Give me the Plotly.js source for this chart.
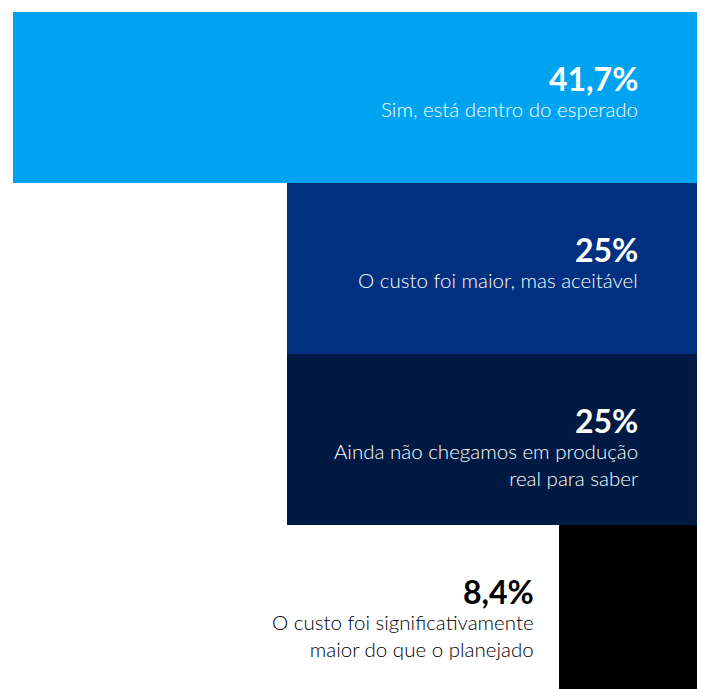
<!DOCTYPE html>
<html>
<head>
<meta charset="utf-8">
<script src="https://cdn.plot.ly/plotly-3.0.1.min.js"></script>
<style>
html, body { margin:0; padding:0; background:#fff; width:701px; height:689px; overflow:hidden; }
#chart { width:701px; height:696px; }
</style>
</head>
<body>
<div id="chart"></div>
<script>
const categories = ["sim", "maior_aceitavel", "nao_chegamos", "significativo"];
const values = [41.7, 25, 25, 8.4];
const valueLabels = ["41,7%", "25%", "25%", "8,4%"];
const descriptions = [
  "Sim, está dentro do esperado",
  "O custo foi maior, mas aceitável",
  "Ainda não chegamos em produção<br>real para saber",
  "O custo foi significativamente<br>maior do que o planejado"
];
const colors = ["#00A3EF", "#00307F", "#001A43", "#000000"];
const textColors = ["#ffffff", "#ffffff", "#ffffff", "#000000"];
const labelInside = [true, true, true, false];

const trace = {
  type: "bar",
  orientation: "h",
  x: values,
  y: categories,
  marker: { color: colors, line: { width: 0 } },
  hoverinfo: "none"
};

const annotations = [];
categories.forEach((c, i) => {
  const inside = labelInside[i];
  const ax = inside ? 0 : values[i];
  const xs = inside ? -57 : -23;
  const extra = inside ? 0 : 0;
  annotations.push({
    xref: "x", yref: "y", x: ax, y: c,
    xanchor: "right", yanchor: "top", align: "right",
    xshift: xs, yshift: 41 + extra,
    showarrow: false,
    text: "<b>" + valueLabels[i] + "</b>",
    font: { family: "Lato, 'Open Sans', sans-serif", size: 32, color: textColors[i], weight: 900 }
  });
  annotations.push({
    xref: "x", yref: "y", x: ax, y: c,
    xanchor: "right", yanchor: "top", align: "right",
    xshift: xs, yshift: 3 + extra,
    showarrow: false,
    text: descriptions[i],
    font: { family: "Lato, 'Open Sans', sans-serif", size: 20.5, color: textColors[i], weight: 300 }
  });
});

const layout = {
  width: 701, height: 696,
  margin: { l: 13, r: 4, t: 12, b: 0, pad: 0 },
  paper_bgcolor: "#ffffff", plot_bgcolor: "#ffffff",
  bargap: 0,
  showlegend: false,
  xaxis: { range: [values[0], 0], visible: false, fixedrange: true },
  yaxis: { autorange: "reversed", visible: false, fixedrange: true },
  annotations: annotations
};

Plotly.newPlot("chart", [trace], layout, { displayModeBar: false, staticPlot: true });
</script>
</body>
</html>
